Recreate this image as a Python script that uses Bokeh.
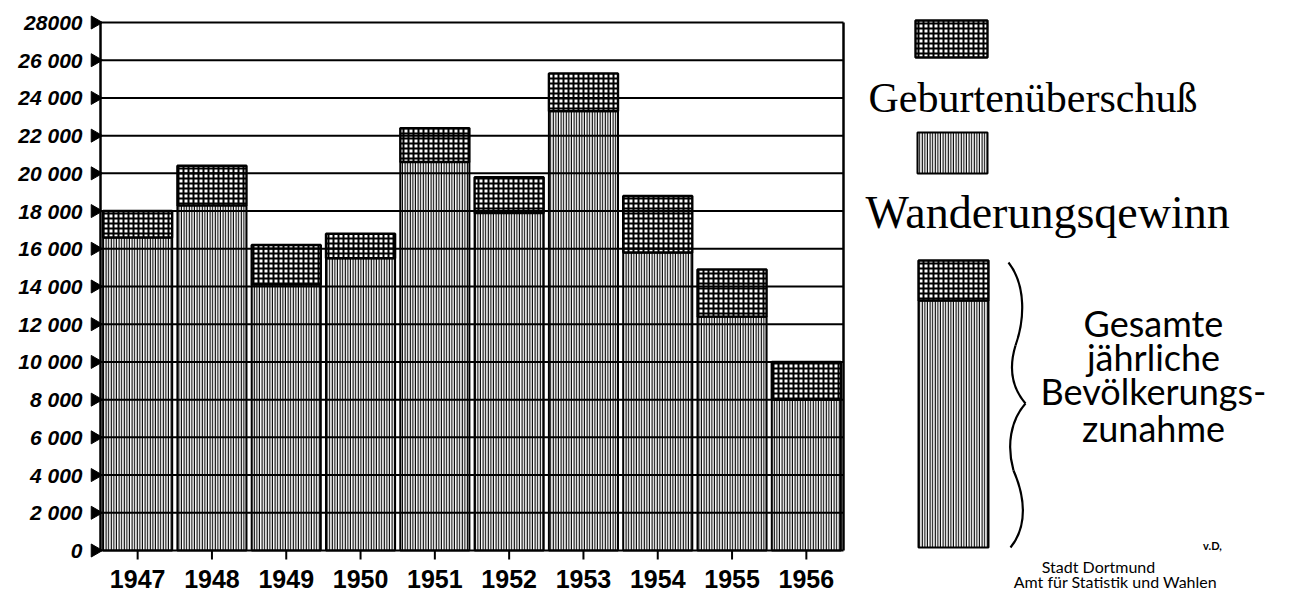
import math
from bokeh.plotting import figure
from bokeh.layouts import row
from bokeh.models import Range1d, ColumnDataSource
from bokeh.core.properties import value
from bokeh.embed import file_html
from bokeh.resources import INLINE

# ---------------- data ----------------
years = ["1947", "1948", "1949", "1950", "1951", "1952", "1953", "1954", "1955", "1956"]
wanderungsgewinn = [16600, 18300, 14100, 15500, 20600, 17900, 23300, 15800, 12400, 8000]
geburtenueberschuss = [1400, 2100, 2100, 1300, 1800, 1900, 2000, 3000, 2500, 2000]
y_ticks = [0, 2000, 4000, 6000, 8000, 10000, 12000, 14000, 16000, 18000,
           20000, 22000, 24000, 26000, 28000]
y_tick_labels = ["0", "2 000", "4 000", "6 000", "8 000", "10 000", "12 000", "14 000",
                 "16 000", "18 000", "20 000", "22 000", "24 000", "26 000", "28000"]
legend_labels = ["Geburtenüberschuß", "Wanderungsqewinn"]
brace_text = ["Gesamte", "jährliche", "Bevölkerungs-", "zunahme"]
credit = ["v.D,", "Stadt Dortmund", "Amt für Statistik und Wahlen"]

# ---------------- left chart ----------------
W1, H1 = 850, 596
AX_L, AX_R = 100, 843      # pixels of the category axis ends
Y0_PX, YTOP_PX = 550, 22   # pixels of 0 and of 28000
YMAX = 28000
n = len(years)
ppx = (AX_R - AX_L) / n
ppy = (Y0_PX - YTOP_PX) / YMAX
x_start = -0.5 - AX_L / ppx
x_end = x_start + W1 / ppx
y_end = YMAX + YTOP_PX / ppy
y_start = -(H1 - Y0_PX) / ppy

p = figure(width=W1, height=H1, x_range=Range1d(x_start, x_end),
           y_range=Range1d(y_start, y_end), x_axis_location=None, y_axis_location=None,
           toolbar_location=None, output_backend="svg", min_border=0,
           outline_line_color=None, background_fill_color="white",
           border_fill_color="white")
p.grid.visible = False

idx = list(range(n))
total = [w + g for w, g in zip(wanderungsgewinn, geburtenueberschuss)]
src = ColumnDataSource(dict(x=idx, w=wanderungsgewinn, t=total, year=years))

line_style = dict(fill_color="white", hatch_pattern="vertical_line", hatch_color="black",
                  hatch_scale=2.6, hatch_weight=1.6, line_color="black", line_width=2)
dot_style = dict(fill_color="white", hatch_pattern="cross", hatch_color="black",
                 hatch_scale=5, hatch_weight=2.0, line_color="black", line_width=2.4)

BAR_W = 0.93
p.vbar(x="x", width=BAR_W, bottom=0, top="w", source=src, **line_style)
p.vbar(x="x", width=BAR_W, bottom="w", top="t", source=src, **dot_style)

# horizontal rules over the bars
p.segment(x0=-0.5, x1=n - 0.5, y0=y_ticks, y1=y_ticks, line_color="black", line_width=2)
# axis line and right border
p.segment(x0=[-0.5, n - 0.5], x1=[-0.5, n - 0.5], y0=[0, 0], y1=[YMAX, YMAX],
          line_color="black", line_width=2.5)
# triangle markers at the value axis
p.scatter(x=-0.5 - 5.5 / ppx, y=y_ticks, marker="triangle", angle=-math.pi / 2,
          size=13, fill_color="black", line_color="black")
p.text(x=-0.5, y=y_ticks, text=y_tick_labels, x_offset=-18, text_align="right",
       text_baseline="middle", text_font=value("Liberation Sans"),
       text_font_style="bold italic", text_font_size="21px", text_color="black")
# year ticks and labels
p.segment(x0=idx, x1=idx, y0=0, y1=-9 / ppy, line_color="black", line_width=2)
p.text(x="x", y=0, text="year", source=src, y_offset=28, text_align="center",
       text_baseline="middle", text_font=value("Liberation Sans"),
       text_font_style="bold", text_font_size="25px", text_color="black")

# ---------------- right legend panel (pixel coordinates) ----------------
W2, H2 = 1296 - W1, 596
q = figure(width=W2, height=H2, x_range=Range1d(W1, W1 + W2),
           y_range=Range1d(H2, 0), x_axis_location=None, y_axis_location=None,
           toolbar_location=None, output_backend="svg", min_border=0,
           outline_line_color=None, background_fill_color="white",
           border_fill_color="white")
q.grid.visible = False

q.quad(left=915, right=987, top=20, bottom=57, **dot_style)
q.quad(left=917, right=987, top=132, bottom=173, **line_style)
q.quad(left=918, right=988, top=300, bottom=547, **line_style)
q.quad(left=918, right=988, top=260, bottom=300, **dot_style)

q.text(x=[868], y=[97], text=legend_labels[:1], text_align="left",
       text_baseline="alphabetic", text_font=value("Liberation Serif"),
       text_font_size="42px", text_color="black")
q.text(x=[865], y=[212], text=legend_labels[1:], text_align="left",
       text_baseline="alphabetic", text_font=value("Liberation Serif"),
       text_font_size="46px", text_color="black")

# brace
q.bezier(x0=[1008, 1015, 1025, 1013], y0=[262, 345, 403, 470],
         x1=[1015, 1025, 1013, 1010], y1=[345, 403, 470, 547],
         cx0=[1026, 1008, 1010, 1024], cy0=[285, 368, 420, 495],
         cx1=[1024, 1012, 1006, 1028], cy1=[320, 388, 445, 525],
         line_color="black", line_width=2.2)

q.text(x=1153, y=[322, 356, 390, 427], text=brace_text, text_align="center",
       text_baseline="alphabetic", text_font=value("Lato"), text_font_size="36px",
       text_color="black")

q.text(x=1212, y=545, text=[credit[0]], text_align="center", text_baseline="alphabetic",
       text_font=value("Lato"), text_font_style="bold", text_font_size="11px",
       text_color="black")
q.text(x=[1098, 1115], y=[566, 581], text=credit[1:], text_align="center",
       text_baseline="alphabetic", text_font=value("Lato"), text_font_size="16px",
       text_color="black")

layout = row(p, q)
open("out.html", "w").write(file_html(layout, INLINE))
